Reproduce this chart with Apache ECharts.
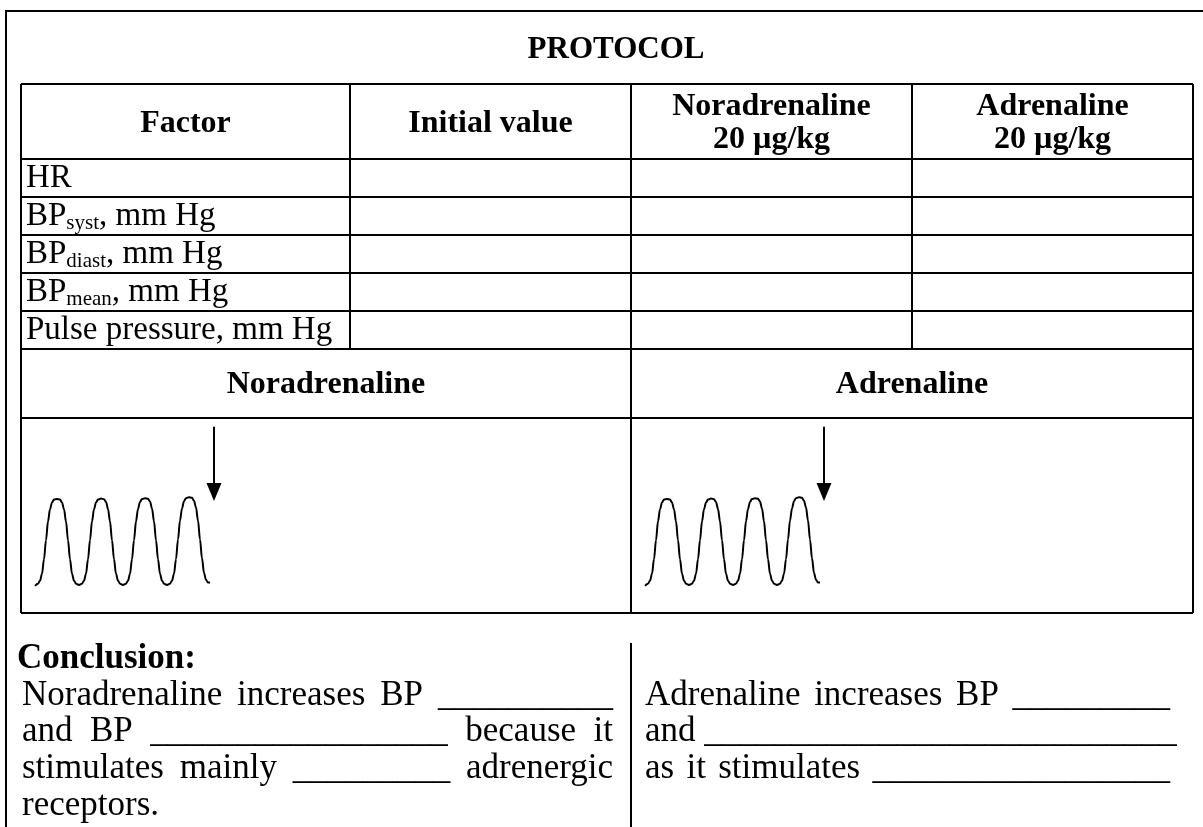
<!DOCTYPE html>
<html><head><meta charset="utf-8">
<script src="https://cdn.jsdelivr.net/npm/echarts@6/dist/echarts.min.js"></script>
<style>html,body{margin:0;padding:0;background:#fff}#c{width:1203px;height:827px}</style>
</head><body><div id="c"></div>
<script>
// ---------------- data ----------------
const title = 'PROTOCOL';
const columnHeaders = ['Factor', 'Initial value', 'Noradrenaline\n20 µg/kg', 'Adrenaline\n20 µg/kg'];
// [main, subscript, rest]
const factors = [
  ['HR', '', ''],
  ['BP', 'syst', ', mm Hg'],
  ['BP', 'diast', ', mm Hg'],
  ['BP', 'mean', ', mm Hg'],
  ['Pulse pressure, mm Hg', '', '']
];
const drugs = ['Noradrenaline', 'Adrenaline'];
// pulse trace: [x offset in cell, pressure level]
const pulseTrace = [
  [14,-1],[17,1.5],[19,5],[21,13],[23,30],[25,52],[27,74],[29,88],[31,96],[33,99.3],[36,100],
  [39,99.3],[41,96],[43,88],[45,74],[47,52],[49,30],[51,13],[53,5],[55,1.5],[58,0],
  [61,1.5],[63,5],[65,13],[67,30],[69,52],[71,74],[73,88],[75,96],[77,99.3],[80,100.5],
  [83,99.8],[85,96.5],[87,88.5],[89,74],[91,52],[93,30],[95,13],[97,5],[99,1.5],[102,0],
  [105,1.5],[107,5],[109,13],[111,30],[113,52],[115,74],[117,88.5],[119,96.5],[121,100],[124,101],
  [127,100.3],[129,97],[131,89],[133,74],[135,52],[137,30],[139,13],[141,5],[143,1.5],[146,0],
  [149,1.5],[151,5],[153,13],[155,30],[157,53],[159,75],[161,89],[163,97.5],[165,101],[168,102],
  [171,101.3],[173,98],[175,90],[177,75],[179,53],[181,31],[183,14],[185,6],[187,3],[189,3]
];
// injection arrow: [x, top level, tip level]
const injectionArrow = [193, 184, 108];
const conclusionTitle = 'Conclusion:';
const conclusionLeft = [
  'Noradrenaline increases BP __________',
  'and BP _________________ because it',
  'stimulates  mainly _________ adrenergic',
  'receptors.'
];
const conclusionRight = [
  'Adrenaline increases BP _________',
  'and ___________________________',
  'as it stimulates _________________'
];

// ---------------- layout ----------------
const FF = '"Liberation Serif", "Times New Roman", serif';
const L = {
  frameX: 6, frameY: 11,
  tl: 21, tr: 1193, tt: 84,
  cols: [21, 350, 631, 912, 1193],
  rows: [84, 159, 197, 235, 273, 311, 349, 418, 613],
  bodySize: 33, headSize: 32, titleSize: 31, titleX: 616,
  conclSize: 35, conclStep: 36.6, conclY0: 659,
  leftX0: 22, leftX1: 613, rightX0: 645, rightX1: 1170, sepX: 631, sepTop: 643
};
const ctx = document.createElement('canvas').getContext('2d');
const g = [];
const K = '#000';
function line(x1, y1, x2, y2) {
  g.push({type: 'line', silent: true, shape: {x1, y1, x2, y2}, style: {stroke: K, lineWidth: 2}});
}
function text(t, x, y, font, align, extra) {
  g.push({type: 'text', silent: true, x, y,
    style: Object.assign({text: t, font, fill: K, align: align || 'left', verticalAlign: 'middle'}, extra || {})});
}
// frame
line(L.frameX - 1, L.frameY, 1210, L.frameY);
line(L.frameX, L.frameY, L.frameX, 900);
// table
const R = L.rows, C = L.cols;
line(L.tl, R[0], L.tr, R[0]);
line(L.tl, R[R.length - 1], L.tr, R[R.length - 1]);
line(L.tl, R[0], L.tl, R[R.length - 1]);
line(L.tr, R[0], L.tr, R[R.length - 1]);
for (let i = 1; i < R.length - 1; i++) line(L.tl, R[i], L.tr, R[i]);
line(C[1], R[0], C[1], R[6]);
line(C[2], R[0], C[2], R[8]);
line(C[3], R[0], C[3], R[6]);
// title
text(title, L.titleX, (L.frameY + L.tt) / 2 + 2, 'bold ' + L.titleSize + 'px ' + FF, 'center');
// headers
columnHeaders.forEach((h, i) => {
  text(h, (C[i] + C[i + 1]) / 2, (R[0] + R[1]) / 2 + 2, 'bold ' + L.headSize + 'px ' + FF, 'center', {lineHeight: 33});
});
// factor rows
factors.forEach((f, i) => {
  const y = (R[i + 1] + R[i + 2]) / 2;
  g.push({type: 'text', silent: true, x: 26, y, style: {
    text: '{m|' + f[0] + '}' + (f[1] ? '{s|' + f[1] + '}' : '') + (f[2] ? '{m|' + f[2] + '}' : ''),
    align: 'left', verticalAlign: 'middle', fill: K,
    rich: {
      m: {fontSize: L.bodySize, fontFamily: FF, lineHeight: 36, fill: K},
      s: {fontSize: 21, fontFamily: FF, lineHeight: 22, verticalAlign: 'bottom', fill: K}
    }
  }});
});
// drug headers
text(drugs[0], (C[0] + C[2]) / 2, (R[6] + R[7]) / 2 + 1, 'bold ' + L.headSize + 'px ' + FF, 'center');
text(drugs[1], (C[2] + C[4]) / 2, (R[6] + R[7]) / 2 + 1, 'bold ' + L.headSize + 'px ' + FF, 'center');
// conclusion
text(conclusionTitle, 17, L.conclY0, 'bold ' + L.conclSize + 'px ' + FF, 'left');
function para(lines, x0, x1, justifyCount) {
  const font = L.conclSize + 'px ' + FF;
  ctx.font = font;
  const minGap = ctx.measureText(' ').width;
  lines.forEach((s, li) => {
    const y = L.conclY0 + L.conclStep * (li + 1);
    const words = s.split(/\s+/);
    if (li >= justifyCount || words.length < 2) { text(s, x0, y, font, 'left'); return; }
    const w = words.map(t => ctx.measureText(t).width);
    const gap = Math.max(minGap, (x1 - x0 - w.reduce((a, b) => a + b, 0)) / (words.length - 1));
    let x = x0;
    words.forEach((t, i) => { text(t, x, y, font, 'left'); x += w[i] + gap; });
  });
}
para(conclusionLeft, L.leftX0, L.leftX1, 3);
para(conclusionRight, L.rightX0, L.rightX1, 3);
line(L.sepX, L.sepTop, L.sepX, 900);

// ---------------- chart ----------------
const yMin = -32.6, yMax = 194.2;
function traceSeries(idx) {
  return {
    type: 'line', xAxisIndex: idx, yAxisIndex: idx, data: pulseTrace,
    showSymbol: false, smooth: 0.35, smoothMonotone: 'x', silent: true,
    lineStyle: {color: K, width: 2},
    markLine: {
      silent: true, animation: false, symbol: ['none', 'triangle'], symbolSize: [15, 18],
      label: {show: false}, lineStyle: {color: K, width: 2, type: 'solid'}, itemStyle: {color: K},
      data: [[{coord: [injectionArrow[0], injectionArrow[1]]}, {coord: [injectionArrow[0], injectionArrow[2]]}]]
    }
  };
}
const chart = echarts.init(document.getElementById('c'), null, {renderer: 'canvas'});
chart.setOption({
  animation: false,
  backgroundColor: '#fff',
  grid: [
    {left: C[0], top: R[7], width: C[2] - C[0], height: R[8] - R[7]},
    {left: C[2], top: R[7], width: C[4] - C[2], height: R[8] - R[7]}
  ],
  xAxis: [
    {type: 'value', gridIndex: 0, min: 0, max: C[2] - C[0], show: false},
    {type: 'value', gridIndex: 1, min: 0, max: C[4] - C[2], show: false}
  ],
  yAxis: [
    {type: 'value', gridIndex: 0, min: yMin, max: yMax, show: false},
    {type: 'value', gridIndex: 1, min: yMin, max: yMax, show: false}
  ],
  series: [traceSeries(0), traceSeries(1)],
  graphic: {elements: g}
});
</script>
</body></html>
